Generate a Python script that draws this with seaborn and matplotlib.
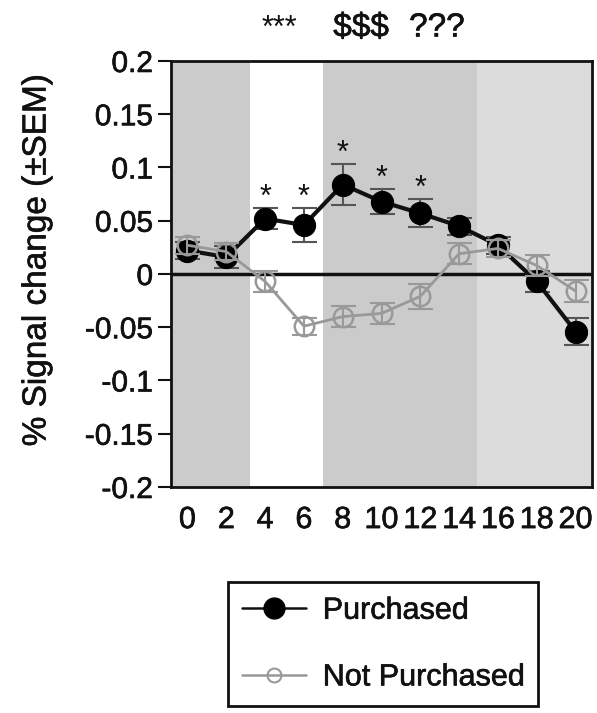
import numpy as np
import pandas as pd
import matplotlib
matplotlib.use("Agg")
import matplotlib.pyplot as plt
import matplotlib.patheffects as pe
from matplotlib.lines import Line2D
import seaborn as sns

# ---- data ----
time_points = [0, 2, 4, 6, 8, 10, 12, 14, 16, 18, 20]
purchased_mean = [0.022, 0.016, 0.052, 0.046, 0.084, 0.068, 0.057, 0.045, 0.027, -0.007, -0.054]
purchased_sem = [0.008, 0.010, 0.010, 0.016, 0.019, 0.012, 0.013, 0.008, 0.008, 0.010, 0.013]
notpurch_mean = [0.027, 0.021, -0.007, -0.049, -0.040, -0.037, -0.021, 0.019, 0.024, 0.008, -0.016]
notpurch_sem = [0.008, 0.008, 0.010, 0.008, 0.010, 0.010, 0.012, 0.010, 0.008, 0.010, 0.010]
star_points = [4, 6, 8, 10, 12]
y_ticks = [0.2, 0.15, 0.1, 0.05, 0, -0.05, -0.1, -0.15, -0.2]
y_tick_labels = ["0.2", "0.15", "0.1", "0.05", "0", "-0.05", "-0.1", "-0.15", "-0.2"]
x_ticks = [0, 2, 4, 6, 8, 10, 12, 14, 16, 18, 20]
labels = ["Purchased", "Not Purchased"]
title_parts = ["***", "$$$", "???"]

sns.set_style("ticks")
plt.rcParams["font.family"] = ["Liberation Sans", "DejaVu Sans"]
plt.rcParams["axes.unicode_minus"] = False

TXT = "#111111"
heavy = [pe.withStroke(linewidth=0.45, foreground=TXT)]

W, H = 597, 713
fig = plt.figure(figsize=(W / 100, H / 100), dpi=100)
ax_l, ax_r, ax_t, ax_b = 171, 592, 61, 487
ax = fig.add_axes([ax_l / W, 1 - ax_b / H, (ax_r - ax_l) / W, (ax_b - ax_t) / H])

xmin, xmax = -0.85, 20.85
ax.set_xlim(xmin, xmax)
ax.set_ylim(-0.2, 0.2)

# background epochs
ax.axvspan(xmin, 3.23, color="#cbcbcb", lw=0, zorder=0)
ax.axvspan(3.23, 6.98, color="white", lw=0, zorder=0)
ax.axvspan(6.98, 14.92, color="#cbcbcb", lw=0, zorder=0)
ax.axvspan(14.92, xmax, color="#dcdcdc", lw=0, zorder=0)
ax.axhline(0, color=TXT, lw=2.5, zorder=1)

df_p = pd.DataFrame({"time": time_points, "signal": purchased_mean})
df_n = pd.DataFrame({"time": time_points, "signal": notpurch_mean})

# error bars
ax.errorbar(time_points, purchased_mean, yerr=purchased_sem, fmt="none",
            ecolor="#555555", elinewidth=1.5, capsize=9, capthick=1.5, zorder=2)
ax.errorbar(time_points, notpurch_mean, yerr=notpurch_sem, fmt="none",
            ecolor="#999999", elinewidth=1.5, capsize=9, capthick=1.5, zorder=4)

sns.lineplot(data=df_p, x="time", y="signal", ax=ax, color=TXT, lw=3,
             marker="o", markersize=16, markerfacecolor="black",
             markeredgecolor="black", legend=False, zorder=3)
sns.lineplot(data=df_n, x="time", y="signal", ax=ax, color="#999999", lw=2,
             marker="o", markersize=14, markerfacecolor="none",
             markeredgecolor="#999999", markeredgewidth=1.8, legend=False, zorder=5)

# significance stars
for t in star_points:
    i = time_points.index(t)
    ax.text(t, purchased_mean[i] + purchased_sem[i] + 0.002, "*",
            ha="center", va="baseline", fontsize=22, color=TXT, zorder=6)

ax.set_xticks(x_ticks)
ax.set_xticklabels([str(v) for v in x_ticks])
ax.set_yticks(y_ticks)
ax.set_yticklabels(y_tick_labels)
ax.tick_params(axis="x", length=0, pad=13, labelsize=22, colors=TXT)
ax.tick_params(axis="y", length=9.5, width=1.5, pad=3.5, labelsize=21.5,
               colors=TXT, direction="out")
for lab in ax.get_xticklabels() + ax.get_yticklabels():
    lab.set_path_effects(heavy)
for s in ax.spines.values():
    s.set_visible(True)
    s.set_linewidth(2)
    s.set_color(TXT)
ax.set_xlabel("")
ax.set_ylabel("% Signal change (\u00b1SEM)", fontsize=24, color=TXT)
ax.yaxis.set_label_coords((37 - ax_l) / (ax_r - ax_l), (ax_b - 260) / (ax_b - ax_t))
ax.yaxis.label.set_va("center")
ax.yaxis.label.set_path_effects(heavy)

# title marks
fig.text(279 / W, 1 - 37 / H, title_parts[0], ha="center", va="baseline",
         fontsize=22, color=TXT)
fig.text(361 / W, 1 - 28 / H, title_parts[1], ha="center", va="center",
         fontsize=24, color=TXT, path_effects=heavy)
fig.text(437 / W, 1 - 28 / H, title_parts[2], ha="center", va="center",
         fontsize=24, color=TXT, path_effects=heavy)

# legend
handles = [
    Line2D([], [], color=TXT, lw=1.8, marker="o", markersize=15,
           markerfacecolor="black", markeredgecolor="black"),
    Line2D([], [], color="#999999", lw=1.8, marker="o", markersize=10,
           markerfacecolor="none", markeredgecolor="#999999", markeredgewidth=1.5),
]
leg = fig.legend(handles, labels, loc="upper left",
                 bbox_to_anchor=(228 / W, 1 - 582 / H), borderaxespad=0,
                 fontsize=22, frameon=True, fancybox=False, framealpha=1,
                 edgecolor=TXT, borderpad=0.45, handlelength=2.1,
                 handletextpad=0.55, labelspacing=1.2)
leg.get_frame().set_linewidth(2)
for txt in leg.get_texts():
    txt.set_color(TXT)
    txt.set_path_effects(heavy)

fig.savefig("out.png", dpi=100)
